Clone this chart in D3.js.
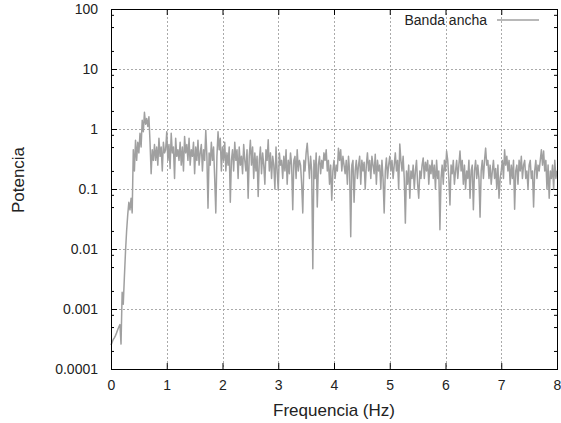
<!DOCTYPE html>
<meta charset="utf-8">
<script src="https://cdn.jsdelivr.net/npm/d3@7"></script>
<style type="text/css">
  body { margin: 0; background: #fff; }
  text { font-family: "Liberation Sans", Arial, sans-serif; fill: #222; }
  .grid line { stroke: #aaa; stroke-width: 1; stroke-dasharray: 2,2; }
  .trace { fill: none; stroke: #a0a0a0; stroke-width: 1.5; stroke-linejoin: round; }
  .axis path { display: none; }
  .axis line { stroke: #000; }
</style>
<body>
<script>

// frequency resolution of the spectrum (Hz between samples)
var freqStep = 0.02;

// power per sample, 0 Hz .. 8 Hz
var power = [
  0.00025, 0.00028, 0.00031, 0.00033, 0.00036, 0.0004, 0.00045, 0.0005, 0.00055, 0.00026,
  0.0019, 0.0012, 0.0034, 0.009, 0.02, 0.037, 0.06, 0.045, 0.07, 0.04,
  0.45, 0.2, 0.65, 0.3, 0.6, 0.4, 0.85, 0.5, 1.4, 0.9,
  1.9, 1.2, 1.5, 1.1, 1.6, 0.6, 0.18, 0.45, 0.3, 0.55,
  0.3, 0.5, 0.25, 0.7, 0.35, 0.5, 0.2, 0.6, 0.4, 0.45,
  0.9, 0.3, 0.55, 0.22, 0.85, 0.4, 0.5, 0.15, 0.7, 0.35,
  0.45, 0.3, 0.6, 0.25, 0.5, 0.2, 0.75, 0.4, 0.55, 0.3,
  0.7, 0.25, 0.45, 0.35, 0.6, 0.18, 0.5, 0.3, 0.65, 0.25,
  0.4, 0.55, 0.2, 0.45, 0.3, 0.95, 0.35, 0.048, 0.4, 0.25,
  0.6, 0.3, 0.5, 0.15, 0.04, 0.35, 0.9, 0.45, 0.7, 0.2,
  0.5, 0.3, 0.6, 0.2, 0.4, 0.25, 0.5, 0.06, 0.3, 0.45,
  0.2, 0.6, 0.3, 0.45, 0.15, 0.5, 0.25, 0.35, 0.18, 0.55,
  0.3, 0.2, 0.45, 0.07, 0.35, 0.65, 0.25, 0.5, 0.15, 0.4,
  0.2, 0.35, 0.075, 0.3, 0.5, 0.18, 0.4, 0.25, 0.12, 0.45,
  0.3, 0.66, 0.2, 0.4, 0.15, 0.35, 0.25, 0.1, 0.5, 0.2,
  0.096, 0.4, 0.25, 0.3, 0.15, 0.35, 0.2, 0.45, 0.12, 0.3,
  0.18, 0.4, 0.25, 0.045, 0.3, 0.35, 0.15, 0.45, 0.2, 0.3,
  0.25, 0.12, 0.04, 0.3, 0.2, 0.4, 0.58, 0.3, 0.15, 0.35,
  0.2, 0.0047, 0.3, 0.15, 0.4, 0.05, 0.25, 0.35, 0.18, 0.3,
  0.22, 0.4, 0.3, 0.45, 0.2, 0.3, 0.12, 0.25, 0.065, 0.2,
  0.3, 0.15, 0.25, 0.2, 0.48, 0.3, 0.45, 0.2, 0.35, 0.25,
  0.18, 0.3, 0.12, 0.35, 0.2, 0.016, 0.25, 0.3, 0.06, 0.2,
  0.3, 0.15, 0.25, 0.35, 0.12, 0.3, 0.2, 0.28, 0.1, 0.25,
  0.4, 0.2, 0.3, 0.15, 0.35, 0.25, 0.18, 0.38, 0.12, 0.3,
  0.2, 0.25, 0.1, 0.3, 0.15, 0.04, 0.2, 0.33, 0.15, 0.25,
  0.35, 0.2, 0.3, 0.15, 0.25, 0.4, 0.2, 0.3, 0.1, 0.56,
  0.3, 0.2, 0.35, 0.15, 0.027, 0.2, 0.12, 0.25, 0.07, 0.2,
  0.15, 0.25, 0.1, 0.2, 0.3, 0.12, 0.07, 0.2, 0.15, 0.25,
  0.33, 0.15, 0.28, 0.2, 0.3, 0.12, 0.25, 0.18, 0.3, 0.15,
  0.25, 0.1, 0.3, 0.15, 0.2, 0.021, 0.15, 0.25, 0.12, 0.3,
  0.2, 0.43, 0.3, 0.15, 0.054, 0.25, 0.18, 0.3, 0.12, 0.2,
  0.3, 0.15, 0.25, 0.43, 0.2, 0.3, 0.12, 0.25, 0.1, 0.2,
  0.15, 0.3, 0.07, 0.2, 0.25, 0.045, 0.2, 0.3, 0.15, 0.25,
  0.15, 0.034, 0.2, 0.3, 0.15, 0.3, 0.48, 0.25, 0.3, 0.15,
  0.25, 0.12, 0.2, 0.3, 0.15, 0.22, 0.1, 0.25, 0.07, 0.15,
  0.2, 0.3, 0.15, 0.45, 0.25, 0.35, 0.2, 0.3, 0.12, 0.25,
  0.15, 0.3, 0.046, 0.2, 0.25, 0.12, 0.3, 0.2, 0.35, 0.15,
  0.25, 0.3, 0.15, 0.2, 0.1, 0.25, 0.3, 0.15, 0.2, 0.05,
  0.2, 0.3, 0.15, 0.25, 0.2, 0.3, 0.45, 0.25, 0.43, 0.2,
  0.3, 0.1, 0.25, 0.07, 0.2, 0.15, 0.25, 0.1, 0.3, 0.15,
  0.2
];

var xTicks = [0, 1, 2, 3, 4, 5, 6, 7, 8];
var yTicks = [0.0001, 0.001, 0.01, 0.1, 1, 10, 100];
var yTickLabels = ["0.0001", "0.001", "0.01", "0.1", "1", "10", "100"];
var yMinorSteps = [2, 5, 8];
var seriesName = "Banda ancha";

var margin = {top: 9, right: 4, bottom: 54, left: 111},
    width = 561 - margin.left - margin.right,
    height = 423 - margin.top - margin.bottom;

var data = power.map((p, i) => ({f: i * freqStep, p: p}));

var svg = d3.select("body").append("svg")
    .attr("width", 561)
    .attr("height", 423);

var g = svg.append("g")
    .attr("transform", "translate(" + margin.left + "," + margin.top + ")");

var xScale = d3.scaleLinear().domain([0, 8]).range([0, width]);
var yScale = d3.scaleLog().domain([0.0001, 100]).range([height, 0]);

// dotted grid at the inner major ticks
var grid = g.append("g").attr("class", "grid");
grid.selectAll(".gx")
    .data(xTicks.slice(1, -1))
    .enter().append("line")
    .attr("x1", d => Math.round(xScale(d)) + 0.5)
    .attr("x2", d => Math.round(xScale(d)) + 0.5)
    .attr("y1", 0).attr("y2", height);
grid.selectAll(".gy")
    .data(yTicks.slice(1, -1))
    .enter().append("line")
    .attr("y1", d => Math.round(yScale(d)) + 0.5)
    .attr("y2", d => Math.round(yScale(d)) + 0.5)
    .attr("x1", 0).attr("x2", width);

// minor tick values on the log axis
var minor = [];
yTicks.slice(0, -1).forEach(t => yMinorSteps.forEach(m => minor.push(t * m)));

// axes (ticks point inward, mirrored on top/right)
g.append("g").attr("class", "axis")
    .attr("transform", "translate(0," + height + ")")
    .call(d3.axisBottom(xScale).tickValues(xTicks).tickSizeInner(-6).tickSizeOuter(0).tickPadding(11))
    .selectAll("text").style("font-size", "14px").style("fill", "#222");

g.append("g").attr("class", "axis")
    .call(d3.axisTop(xScale).tickValues(xTicks).tickSizeInner(-6).tickSizeOuter(0).tickFormat(""));

g.append("g").attr("class", "axis")
    .call(d3.axisLeft(yScale).tickValues(yTicks).tickSizeInner(-6).tickSizeOuter(0).tickPadding(13)
        .tickFormat((d, i) => yTickLabels[i]))
    .selectAll("text").style("font-size", "14px").style("fill", "#222");

g.append("g").attr("class", "axis")
    .attr("transform", "translate(" + width + ",0)")
    .call(d3.axisRight(yScale).tickValues(yTicks).tickSizeInner(-6).tickSizeOuter(0).tickFormat(""));

g.append("g").attr("class", "axis")
    .call(d3.axisLeft(yScale).tickValues(minor).tickSizeInner(-3).tickSizeOuter(0).tickFormat(""));

g.append("g").attr("class", "axis")
    .attr("transform", "translate(" + width + ",0)")
    .call(d3.axisRight(yScale).tickValues(minor).tickSizeInner(-3).tickSizeOuter(0).tickFormat(""));

// the spectrum
var line = d3.line()
    .x(d => xScale(d.f))
    .y(d => yScale(d.p));

g.append("path")
    .datum(data)
    .attr("class", "trace")
    .attr("d", line);

// frame
g.append("rect")
    .attr("x", 0.5).attr("y", 0.5)
    .attr("width", width).attr("height", height)
    .style("fill", "none").style("stroke", "#000").style("stroke-width", 1);

// legend
var legend = g.append("g").attr("transform", "translate(" + (width - 18) + ",11)");
legend.append("text")
    .attr("x", -52).attr("y", 0)
    .attr("dy", "0.35em")
    .style("text-anchor", "end")
    .style("font-size", "14px")
    .text(seriesName);
legend.append("line")
    .attr("x1", -42).attr("x2", 0)
    .attr("y1", 0).attr("y2", 0)
    .style("stroke", "#a0a0a0").style("stroke-width", 1.5);

// axis titles
g.append("text")
    .attr("x", width / 2).attr("y", height + 41)
    .attr("dy", "0.35em")
    .style("text-anchor", "middle")
    .style("font-size", "17px")
    .text("Frequencia (Hz)");

g.append("text")
    .attr("transform", "rotate(-90)")
    .attr("x", -height / 2 + 9).attr("y", -93)
    .attr("dy", "0.35em")
    .style("text-anchor", "middle")
    .style("font-size", "17px")
    .text("Potencia");

</script>
</body>
</html>
